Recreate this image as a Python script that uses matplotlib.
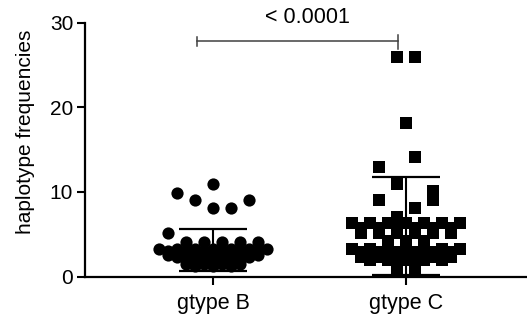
import numpy as np
import matplotlib.pyplot as plt

plt.rcParams["font.family"] = ["Liberation Sans", "DejaVu Sans"]

groups = ["gtype B", "gtype C"]
# each inner list is one row of the Prism-style scatter
b_rows = [
    [11.0],
    [8.1, 8.1, 9.1, 9.1, 9.9],
    [4.1, 4.1, 4.1, 4.1, 5.2, 4.1],
    [3.3] * 7,
    [3.0] * 6,
    [2.6] * 6,
    [2.3] * 5,
    [1.9] * 4,
    [1.5] * 4,
    [1.2] * 3,
]
c_rows = [
    [26.0, 26.0],
    [18.1],
    [11.0, 14.1, 13.0, 10.1],
    [7.1, 8.1, 9.1, 9.1],
    [6.3] * 7,
    [5.8] * 6,
    [5.2] * 6,
    [4.2] * 3,
    [3.3] * 7,
    [2.9] * 6,
    [2.3] * 6,
    [1.9] * 5,
    [1.0] * 2,
]
means = [3.14, 5.98]
sds = [2.43, 5.78]
p_text = "< 0.0001"
yticks = [0, 10, 20, 30]

STEP = 0.093  # horizontal spacing between points in one row (x units)


def row_offsets(n):
    if n % 2:
        seq = [0] + [s * k for k in range(1, n // 2 + 1) for s in (1, -1)]
    else:
        seq = [s * (k + 0.5) for k in range(n // 2) for s in (-1, 1)]
    return seq[:n]


def layout(rows, center):
    xs, ys = [], []
    for row in rows:
        for v, o in zip(row, row_offsets(len(row))):
            xs.append(center + o * STEP)
            ys.append(v)
    return xs, ys


fig = plt.figure(figsize=(5.27, 3.25), dpi=100)
ax = fig.add_axes([0.1613, 0.149, 0.8387, 0.781])

for i, (rows, mk, ms) in enumerate([(b_rows, "o", 8.8), (c_rows, "s", 8.4)]):
    xs, ys = layout(rows, i)
    ax.plot(xs, ys, mk, ms=ms, color="black", mec="black", mew=0, clip_on=False, zorder=3)

for i, (m, s) in enumerate(zip(means, sds)):
    ax.vlines(i, m - s, m + s, color="black", lw=1.5, zorder=4)
    ax.hlines([m - s, m + s], i - 0.174, i + 0.174, color="black", lw=1.6, zorder=4)
    ax.hlines(m, i - 0.2, i + 0.2, color="black", lw=1.6, zorder=4)

# significance bracket
bx0, bx1, by = -0.083, 0.959, 27.8
ax.plot([bx0, bx1], [by, by], color="#404040", lw=1.1, clip_on=False)
ax.plot([bx0, bx0], [by - 0.55, by + 0.55], color="#404040", lw=1.1, clip_on=False)
ax.plot([bx1, bx1], [by - 0.9, by + 0.7], color="#404040", lw=1.1, clip_on=False)
ax.text(0.49, 29.4, p_text, ha="center", va="bottom", fontsize=15.5, clip_on=False)

ax.set_xlim(-0.663, 1.627)
ax.set_ylim(0, 30)
ax.set_xticks([0, 1], groups)
ax.set_yticks(yticks)
ax.tick_params(axis="both", labelsize=15, width=1.5, length=5.5, color="black")
ax.tick_params(axis="x", labelsize=15.5, pad=6)
ax.tick_params(axis="y", pad=3)
for side in ("top", "right"):
    ax.spines[side].set_visible(False)
for side in ("left", "bottom"):
    ax.spines[side].set_linewidth(1.6)
ax.set_ylabel("haplotype frequencies", fontsize=15)
ax.yaxis.set_label_coords(-0.113, 0.57)

fig.savefig("out.png", dpi=100)
